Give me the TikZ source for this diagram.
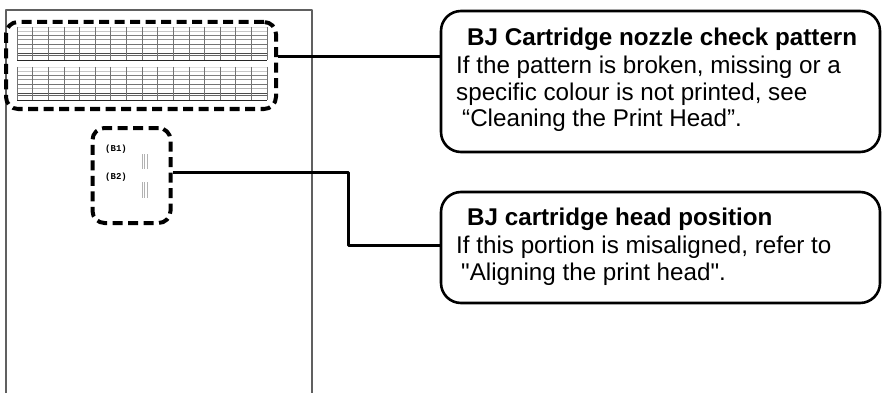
\documentclass[tikz,border=0pt]{standalone}
\usepackage{fontspec}
\setmainfont{Liberation Sans}
\setmonofont{Liberation Mono}
\newfontfamily\plainq{Liberation Sans}
\usetikzlibrary{calc}

\tikzset{
  dashbox/.style={draw, line width=4pt, dash pattern=on 10pt off 5.5pt, rounded corners=12pt, inner sep=0pt, line cap=butt},
  callout/.style={draw, line width=2.6pt, rounded corners=20pt, inner sep=0pt},
  conn/.style={line width=3pt, line cap=butt},
  txt/.style={anchor=base west, inner sep=0pt, font=\fontsize{24.2}{26}\selectfont},
  ttl/.style={txt, font=\fontsize{24.2}{26}\selectfont\bfseries},
  lbl/.style={anchor=west, inner sep=0pt, font=\fontsize{9}{9}\selectfont\ttfamily\bfseries}
}

\begin{document}
\begin{tikzpicture}[x=1pt, y=-1pt, line join=round]
\useasboundingbox (0,0) rectangle (882,393);

% foglio
\draw[gray!75!black, line width=1.3pt] (6,393) -- (6,10) -- (312,10) -- (312,393);

% motivo degli ugelli
\foreach \yb in {27,67} {
  \foreach \dy/\g in {0/12,4/22,8/50,12/40,17/55,21/30,26/70,28/60,33/85}
    \draw[black!\g, line width=0.8pt] (17,\yb+\dy) -- (267,\yb+\dy);
  \foreach \i in {0,...,16}
    \draw[black!55, line width=0.6pt] (17+\i*15.625,\yb) -- ++(0,33);
}

% testine B1, B2
\node[lbl] (b1) at (105,149.5) {(B1)};
\node[lbl] (b2) at (105,177.5) {(B2)};
\foreach \x in {142,144.5,147} {
  \draw[black!30, line width=0.7pt] (\x,154) -- (\x,169);
  \draw[black!30, line width=0.7pt] (\x,182) -- (\x,198);
}

% zone tratteggiate
\node[dashbox, minimum width=270pt, minimum height=87pt] (nozzle) at (141,65.5) {};
\node[dashbox, minimum width=78pt, minimum height=95pt] (head) at (131.5,175.5) {};

% riquadri di spiegazione
\node[callout, minimum width=439pt, minimum height=141pt] (nozzlebox) at (660.5,81.5) {};
\node[callout, minimum width=439pt, minimum height=111pt] (headbox) at (660.5,247.5) {};

% collegamenti
\draw[conn] (nozzle.east |- 0,57) -- (nozzlebox.west |- 0,57);
\draw[conn] (head.east |- 0,172) -- (348,172) |- (headbox.west |- 0,245);

% testi
\node[ttl] (t1) at (467,45.7) {BJ Cartridge nozzle check pattern};
\node[txt] (t1a) at (456,73.3) {If the pattern is broken, missing or a};
\node[txt] (t1b) at (456,100) {specific colour is not printed, see};
\node[txt] (t1c) at (462,126.7) {“Cleaning the Print Head”.};

\node[ttl] (t2) at (467,225.5) {BJ cartridge head position};
\node[txt] (t2a) at (456,253) {If this portion is misaligned, refer to};
\node[txt] (t2b) at (461,280) {{\plainq"}Aligning the print head{\plainq"}.};

\end{tikzpicture}
\end{document}
